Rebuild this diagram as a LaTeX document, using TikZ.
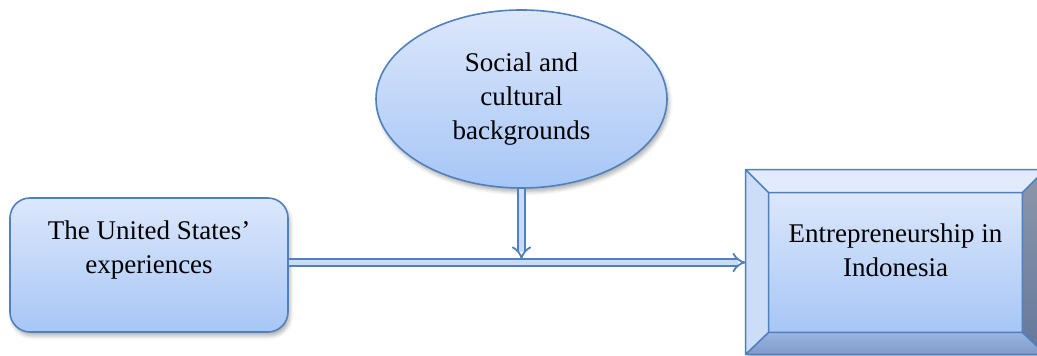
\documentclass[tikz,border=0pt]{standalone}
\usepackage{fontspec}
\setmainfont{Liberation Serif}
\usepackage{tikz}
\usetikzlibrary{shapes.geometric,arrows.meta,calc,shadows.blur}

\definecolor{edge}{HTML}{4F81BD}
\definecolor{topfill}{HTML}{DCE7FB}
\definecolor{botfill}{HTML}{A7C6F6}
\definecolor{shaft}{HTML}{C9DBF8}
\definecolor{bevtop}{HTML}{E2EBFB}
\definecolor{bevleft}{HTML}{CCDDF8}
\definecolor{bevbotA}{HTML}{9BB4E0}
\definecolor{bevbotB}{HTML}{7F9BCB}
\definecolor{bevrightA}{HTML}{8E97AA}
\definecolor{bevrightB}{HTML}{64789C}

\tikzset{
  boxtext/.style={font=\fontsize{13.5}{17}\selectfont, align=center},
  shape fill/.style={draw=edge, line width=0.8pt,
    top color=topfill, bottom color=botfill},
  soft shadow/.style={blur shadow={shadow xshift=1pt, shadow yshift=-2pt, shadow opacity=30}},
  hollow/.style={draw=edge, line width=0.9pt, double=shaft,
    double distance=2.4pt, -{Implies}},
}

\begin{document}
\begin{tikzpicture}[x=0.5pt,y=0.5pt]
                              \useasboundingbox (0,0) rectangle (1037,356);

                              % Boxes
                              \node[shape fill, rounded corners=10pt, soft shadow,
                                    minimum width=139pt, minimum height=67pt,
                                    label={[boxtext, yshift=7.5pt]center:The United States'\\experiences}]
                                    (usa) at (149,91) {};

                              \node[shape fill, ellipse, soft shadow,
                                    minimum width=145.5pt, minimum height=89pt, boxtext]
                                    (soc) at (521.5,257) {Social and\\cultural\\backgrounds};

                              \node[inner sep=0pt, minimum width=126.5pt, minimum height=69.5pt]
                                    (ent) at (895.5,93.5) {};

                              % Bevel of the last box
                              \coordinate (o1) at ($(ent.north west)+(-23,23)$);
                              \coordinate (o2) at ($(ent.north east)+(23,23)$);
                              \coordinate (o3) at ($(ent.south east)+(23,-22)$);
                              \coordinate (o4) at ($(ent.south west)+(-23,-22)$);
                              \fill[soft shadow, white] (o1) -- (o2) -- (o3) -- (o4) -- cycle;
                              \fill[top color=topfill, bottom color=botfill]
                                    (ent.south west) rectangle (ent.north east);
                              \fill[bevtop] (o1) -- (o2) -- (ent.north east) -- (ent.north west) -- cycle;
                              \fill[bevleft] (o1) -- (ent.north west) -- (ent.south west) -- (o4) -- cycle;
                              \fill[top color=bevbotA, bottom color=bevbotB] (ent.south west) -- (ent.south east) -- (o3) -- (o4) -- cycle;
                              \fill[top color=bevrightA, bottom color=bevrightB] (ent.north east) -- (o2) -- (o3) -- (ent.south east) -- cycle;
                              \draw[edge, line width=0.8pt] (o1) -- (o2) -- (o3) -- (o4) -- cycle
                                    (ent.south west) rectangle (ent.north east)
                                    (o1) -- (ent.north west) (o2) -- (ent.north east)
                                    (o3) -- (ent.south east) (o4) -- (ent.south west);
                              \node[boxtext] (entlbl) at ($(ent.center)+(0,12)$) {Entrepreneurship in\\Indonesia};
                              \coordinate (entin) at ($(ent.west)+(-23,0)$);

                              % Arrows
                              \draw[hollow] (usa.east |- entin) -- (entin);
                              \draw[hollow] (soc.south) -- ($(soc.south |- entin)+(0,3)$);
                        \end{tikzpicture}
\end{document}
